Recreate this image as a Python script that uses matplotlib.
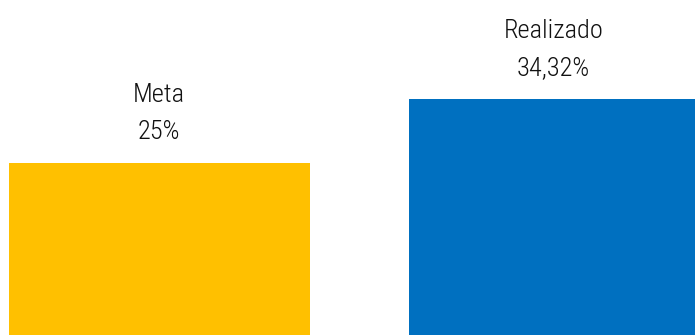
import matplotlib
matplotlib.use("Agg")
import matplotlib.pyplot as plt

# --- data ---
categories = ["Meta", "Realizado"]
values = [25.0, 34.32]
value_labels = ["25%", "34,32%"]
colors = ["#FFC000", "#0070C0"]

plt.rcParams["font.family"] = ["Roboto Condensed", "Liberation Sans Narrow",
                               "Liberation Sans", "DejaVu Sans"]

fig = plt.figure(figsize=(6.95, 3.35), dpi=100)
ax = fig.add_axes([0, 0, 1, 1])

x = list(range(len(categories)))
bars = ax.bar(x, values, width=0.7525, color=colors)

# bar pitch 400 px, first bar centre at 159.5 px
ax.set_xlim(-159.5 / 400, (695 - 159.5) / 400)
ax.set_ylim(0, 25 * 335 / 172)
ax.axis("off")

px = 72 / 100  # pixels -> points
for i, (b, cat, lab) in enumerate(zip(bars, categories, value_labels)):
    cx = b.get_x() + b.get_width() / 2
    top = b.get_height()
    dx = -1 if i == 0 else -6
    ax.annotate(lab, (cx, top), xytext=(dx * px, 24 * px), textcoords="offset points",
                ha="center", va="baseline", fontsize=19, fontweight="light",
                color="#111111")
    ax.annotate(cat, (cx, top), xytext=(dx * px, 61 * px), textcoords="offset points",
                ha="center", va="baseline", fontsize=19, fontweight="light",
                color="#111111")

fig.savefig("out.png", dpi=100)
